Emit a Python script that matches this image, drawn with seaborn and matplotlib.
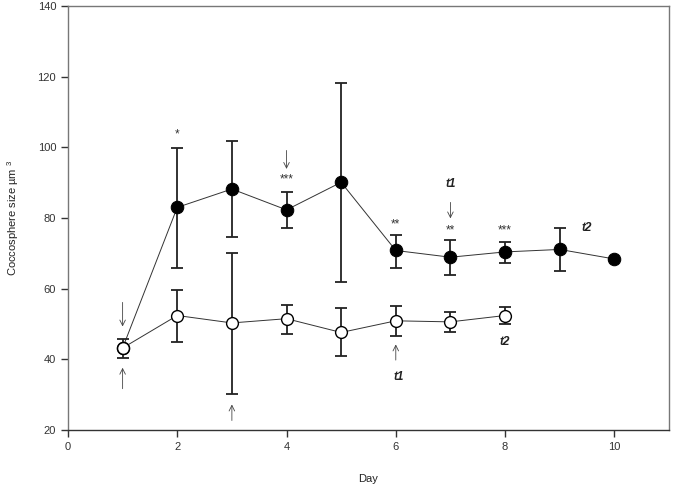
import numpy as np
import pandas as pd
import matplotlib
matplotlib.use("Agg")
import matplotlib.pyplot as plt
import seaborn as sns

# Data
days_filled = [1, 2, 3, 4, 5, 6, 7, 8, 9, 10]
mean_filled = [43.2, 83.0, 88.2, 82.3, 90.1, 70.8, 68.9, 70.4, 71.1, 68.4]
upper_filled = [43.2, 99.9, 101.9, 87.3, 118.3, 75.2, 73.7, 73.3, 77.1, 68.4]
lower_filled = [43.2, 65.8, 74.5, 77.1, 62.0, 65.9, 63.9, 67.3, 64.9, 68.4]

days_open = [1, 2, 3, 4, 5, 6, 7, 8]
mean_open = [43.2, 52.4, 50.3, 51.5, 47.6, 50.9, 50.6, 52.4]
upper_open = [45.7, 59.7, 70.0, 55.5, 54.4, 55.2, 53.3, 54.8]
lower_open = [40.5, 45.0, 30.3, 47.2, 40.8, 46.7, 47.8, 50.1]

# significance stars (day, y, text)
star_days = [2, 4, 6, 7, 8]
star_y = [103.6, 90.9, 78.1, 76.5, 76.5]
star_text = ["*", "***", "**", "**", "***"]

# arrows (day, from y, to y)
arrow_days = [1, 1, 3, 4, 6, 7]
arrow_from = [56.9, 30.9, 21.9, 99.9, 39.0, 85.2]
arrow_to = [48.5, 38.4, 28.0, 93.1, 45.0, 79.1]

# t labels (day, y, text)
tlab_days = [7, 9.5, 6.05, 8]
tlab_y = [89.7, 77.2, 35.1, 45.0]
tlab_text = ["t1", "t2", "t1", "t2"]

df_f = pd.DataFrame({"day": days_filled, "size": mean_filled})
df_o = pd.DataFrame({"day": days_open, "size": mean_open})

sns.set_style("ticks")
plt.rcParams["font.family"] = ["Liberation Sans", "DejaVu Sans"]
plt.rcParams["mathtext.default"] = "regular"

fig = plt.figure(figsize=(6.73, 4.84), dpi=100)
ax = fig.add_axes([0.101, 0.1116, 0.893, 0.876])

ebkw = dict(fmt="none", ecolor="#222222", elinewidth=1.3, capsize=4.3, capthick=1.3)

# filled series
ax.errorbar(days_filled, mean_filled,
            yerr=[np.subtract(mean_filled, lower_filled), np.subtract(upper_filled, mean_filled)],
            zorder=2, **ebkw)
sns.lineplot(data=df_f, x="day", y="size", ax=ax, color="#333333", lw=0.7,
             marker="o", markersize=9, markerfacecolor="black",
             markeredgecolor="black", zorder=3)

# open series
ax.errorbar(days_open, mean_open,
            yerr=[np.subtract(mean_open, lower_open), np.subtract(upper_open, mean_open)],
            zorder=4, **ebkw)
sns.lineplot(data=df_o, x="day", y="size", ax=ax, color="#333333", lw=0.7,
             marker="o", markersize=8.5, markerfacecolor="white",
             markeredgecolor="black", markeredgewidth=1.0, zorder=5)

for d, y, t in zip(star_days, star_y, star_text):
    ax.text(d, y, t, ha="center", va="center", fontsize=8.5, color="#333333")

for d, y0, y1 in zip(arrow_days, arrow_from, arrow_to):
    ax.annotate("", xy=(d, y1), xytext=(d, y0),
                arrowprops=dict(arrowstyle="->", lw=0.6, color="#444444",
                                mutation_scale=10))

for d, y, t in zip(tlab_days, tlab_y, tlab_text):
    ax.text(d, y, t, ha="center", va="center", fontsize=8.5,
            fontweight="bold", fontstyle="italic", color="#222222")

ax.set_xlim(0, 11)
ax.set_ylim(20, 140)
ax.set_xticks(range(0, 11, 2))
ax.set_yticks(range(20, 141, 20))
ax.tick_params(direction="out", length=5, width=1, labelsize=8, colors="#333333")
for s in ax.spines.values():
    s.set_color("#777777")
    s.set_linewidth(1.0)
ax.spines["bottom"].set_color("#333333")

ax.set_xlabel("Day", fontsize=8, color="#222222")
ax.set_ylabel("Coccosphere size µm $^{3}$", fontsize=8, color="#222222")
ax.xaxis.set_label_coords(0.5, -0.104)
ax.yaxis.set_label_coords(-0.078, 0.5)

fig.savefig("out.png", dpi=100)
